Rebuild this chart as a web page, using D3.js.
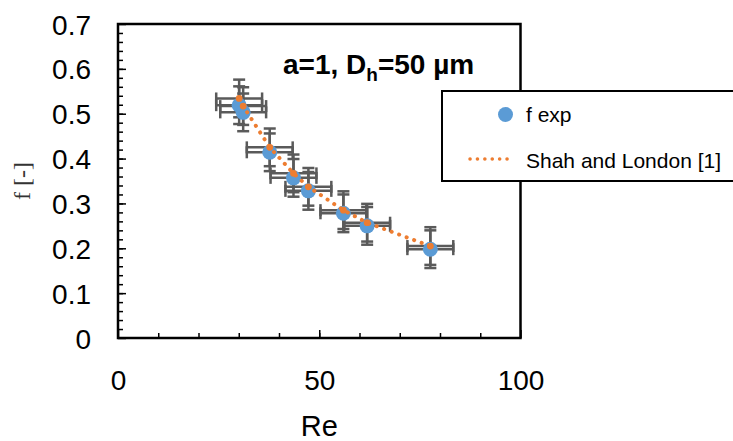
<!DOCTYPE html>
<html>
<head>
<meta charset="utf-8">
<script src="https://cdn.jsdelivr.net/npm/d3@7"></script>
<style>
  html, body { margin: 0; padding: 0; background: #fff; }
  svg { display: block; font-family: "Liberation Sans", Arial, sans-serif; }
</style>
</head>
<body>
<svg id="chart" width="733" height="441"></svg>
<script>
// Friction factor vs Reynolds number, square channel a=1, Dh=50 µm
const reValues   = [30.1, 31.1, 37.7, 43.6, 47.3, 56.0, 61.9, 77.6];
const fExp       = [0.519, 0.503, 0.414, 0.357, 0.328, 0.278, 0.250, 0.198];
const fShah      = [0.534, 0.517, 0.425, 0.367, 0.337, 0.285, 0.257, 0.205];
const reError    = 5.7;
const fError     = 0.042;
const xTickLabels = [0, 50, 100];
const yTickLabels = [0, 0.1, 0.2, 0.3, 0.4, 0.5, 0.6, 0.7];

const svg = d3.select("#chart");
const plot = { left: 118, right: 520.5, top: 24, bottom: 338 };

const x = d3.scaleLinear().domain([0, 100]).range([plot.left, plot.right]);
const y = d3.scaleLinear().domain([0, 0.7]).range([plot.bottom, plot.top]);

const expPts  = reValues.map((r, i) => ({ re: r, f: fExp[i] }));
const shahPts = reValues.map((r, i) => ({ re: r, f: fShah[i] }));

// inward minor ticks
svg.append("g")
  .attr("transform", `translate(0,${plot.bottom})`)
  .call(d3.axisBottom(x).tickValues(d3.range(10, 100, 10)).tickSize(-5).tickFormat(""))
  .call(g => g.select(".domain").remove())
  .call(g => g.selectAll("line").attr("stroke", "#000").attr("stroke-width", 1.5));
svg.append("g")
  .attr("transform", `translate(${plot.left},0)`)
  .call(d3.axisLeft(y).tickValues(d3.range(1, 35).map(d => d * 0.02)).tickSize(-5).tickFormat(""))
  .call(g => g.select(".domain").remove())
  .call(g => g.selectAll("line").attr("stroke", "#000").attr("stroke-width", 1.5));

// major ticks with labels
const xAxis = svg.append("g")
  .attr("transform", `translate(0,${plot.bottom})`)
  .call(d3.axisBottom(x).tickValues(xTickLabels).tickSize(-8).tickFormat(d3.format("d")));
xAxis.select(".domain").remove();
xAxis.selectAll("line").attr("stroke", "#000").attr("stroke-width", 1.5);
xAxis.selectAll("text")
  .attr("y", 52).attr("dy", 0)
  .attr("fill", "#000")
  .style("font-size", "28px")
  .style("font-family", "'Liberation Sans', Arial, sans-serif");

const yAxis = svg.append("g")
  .attr("transform", `translate(${plot.left},0)`)
  .call(d3.axisLeft(y).tickValues(yTickLabels).tickSize(-8).tickFormat(d => d === 0 ? "0" : d3.format(".1f")(d)));
yAxis.select(".domain").remove();
yAxis.selectAll("line").attr("stroke", "#000").attr("stroke-width", 1.5);
yAxis.selectAll("text")
  .attr("x", -27).attr("dy", "0.36em")
  .attr("fill", "#000")
  .style("font-size", "28px")
  .style("font-family", "'Liberation Sans', Arial, sans-serif");

// plot frame
svg.append("rect")
  .attr("x", plot.left).attr("y", plot.top)
  .attr("width", plot.right - plot.left).attr("height", plot.bottom - plot.top)
  .attr("fill", "none").attr("stroke", "#000").attr("stroke-width", 2.5);

// axis titles
svg.append("text")
  .attr("x", (plot.left + plot.right) / 2).attr("y", 436)
  .attr("text-anchor", "middle")
  .style("font-size", "29px").attr("fill", "#000")
  .text("Re");
svg.append("text")
  .attr("transform", "translate(30,181) rotate(-90)")
  .attr("text-anchor", "middle")
  .style("font-family", "'Liberation Serif', 'Times New Roman', serif")
  .style("font-size", "24px").attr("fill", "#333")
  .text("f [-]");

// error bars for both series
const capHalf = 6;
const errColor = "#5a5a5a";
function drawErrorBars(pts) {
  const g = svg.append("g").attr("stroke", errColor).attr("stroke-width", 2.5).attr("fill", "none");
  pts.forEach(p => {
    const cx = x(p.re), cy = y(p.f);
    const x0 = x(p.re - reError), x1 = x(p.re + reError);
    const y0 = y(p.f + fError), y1 = y(p.f - fError);
    g.append("line").attr("x1", x0).attr("x2", x1).attr("y1", cy).attr("y2", cy);
    g.append("line").attr("x1", x0).attr("x2", x0).attr("y1", cy - capHalf).attr("y2", cy + capHalf);
    g.append("line").attr("x1", x1).attr("x2", x1).attr("y1", cy - capHalf).attr("y2", cy + capHalf);
    g.append("line").attr("x1", cx).attr("x2", cx).attr("y1", y0).attr("y2", y1);
    g.append("line").attr("x1", cx - capHalf).attr("x2", cx + capHalf).attr("y1", y0).attr("y2", y0);
    g.append("line").attr("x1", cx - capHalf).attr("x2", cx + capHalf).attr("y1", y1).attr("y2", y1);
  });
}
drawErrorBars(expPts);
drawErrorBars(shahPts);

// experimental points
svg.append("g").selectAll("circle").data(expPts).join("circle")
  .attr("cx", d => x(d.re)).attr("cy", d => y(d.f)).attr("r", 7.5)
  .attr("fill", "#5b9bd5");

// Shah and London correlation: dotted line with small markers
const line = d3.line().x(d => x(d.re)).y(d => y(d.f));
svg.append("path").datum(shahPts)
  .attr("d", line).attr("fill", "none")
  .attr("stroke", "#ed7d31").attr("stroke-width", 4)
  .attr("stroke-linecap", "round").attr("stroke-dasharray", "0.1 7.9");
svg.append("g").selectAll("circle").data(shahPts).join("circle")
  .attr("cx", d => x(d.re)).attr("cy", d => y(d.f)).attr("r", 3.4)
  .attr("fill", "#ed7d31");

// annotation
const note = svg.append("text")
  .attr("x", 283).attr("y", 74)
  .style("font-size", "28px").style("font-weight", "bold").attr("fill", "#000");
note.append("tspan").text("a=1, D");
note.append("tspan").attr("dy", 7).style("font-size", "19px").text("h");
note.append("tspan").attr("dy", -7).text("=50 µm");

// legend
const legend = svg.append("g");
legend.append("rect")
  .attr("x", 442).attr("y", 91).attr("width", 300).attr("height", 90)
  .attr("fill", "#fff").attr("stroke", "#000").attr("stroke-width", 2);
legend.append("circle").attr("cx", 505.5).attr("cy", 114.5).attr("r", 7.5).attr("fill", "#5b9bd5");
legend.append("text").attr("x", 526).attr("y", 122)
  .style("font-size", "21px").attr("fill", "#000").text("f exp");
legend.append("line")
  .attr("x1", 470).attr("x2", 513).attr("y1", 159).attr("y2", 159)
  .attr("stroke", "#ed7d31").attr("stroke-width", 3.5)
  .attr("stroke-linecap", "round").attr("stroke-dasharray", "0.1 7.3");
legend.append("text").attr("x", 526).attr("y", 168)
  .style("font-size", "21px").attr("fill", "#000").text("Shah and London [1]");
</script>
</body>
</html>
